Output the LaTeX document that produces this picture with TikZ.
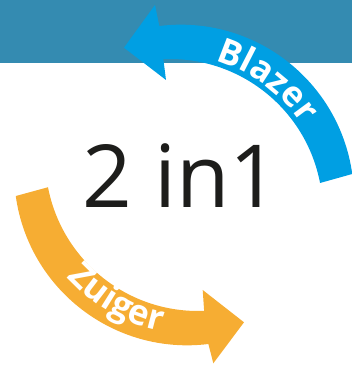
\documentclass[tikz,border=0pt]{standalone}
\usepackage{fontspec}
\setmainfont{Open Sans}
\usetikzlibrary{decorations.text}
\definecolor{bandcol}{RGB}{52,139,177}
\definecolor{blazercol}{RGB}{0,159,227}
\definecolor{zuigercol}{RGB}{246,173,51}
\definecolor{inkcol}{RGB}{29,29,27}
\newcommand\arrowlabelfont{\bfseries\fontsize{35}{37}\selectfont\color{white}}
\tikzset{
  bluearrow/.style={fill=blazercol},
  orangearrow/.style={fill=zuigercol},
  arclabel/.style={decorate, decoration={text along path, text align=center}},
}
\begin{document}
\begin{tikzpicture}[x=1pt,y=1pt]
\useasboundingbox (0,0) rectangle (352,366);
\clip (0,0) rectangle (352,366);
% top band
\fill[bandcol] (0,303.3) rectangle (352,366);
% centres of the arcs
\coordinate (Bo) at (180.7,168.1);
\coordinate (Bi) at (170,154.2);
\coordinate (Oo) at (187.3,193.9);
\coordinate (Oi) at (198,207.8);
% blue arrow (Blazer)
\coordinate (bh1) at (155,361);
\coordinate (btip) at (124,318.3);
\coordinate (bh2) at (166,286);
\path[bluearrow] ([shift={(7.94:173.2pt)}]Bo) arc[start angle=7.94, end angle=97.1, radius=173.2pt]
  -- (bh1) -- (btip) -- (bh2)
  -- ([shift={(92.5:152.8pt)}]Bi) arc[start angle=92.5, end angle=10.87, radius=152.8pt] -- cycle;
% orange arrow (Zuiger)
\coordinate (oh1) at (213.3,2.7);
\coordinate (otip) at (244,43.7);
\coordinate (oh2) at (202.7,76);
\path[orangearrow] ([shift={(187.94:173.2pt)}]Oo) arc[start angle=187.94, end angle=277.0, radius=173.2pt]
  -- (oh1) -- (otip) -- (oh2)
  -- ([shift={(272.3:152.8pt)}]Oi) arc[start angle=272.3, end angle=190.96, radius=152.8pt] -- cycle;
% labels along the arrows
\path[arclabel, decoration={text={|\arrowlabelfont|Blazer}}]
  ([shift={(123.5:158pt)}]Bi) arc[start angle=123.5, end angle=-16.5, radius=158pt];
\path[arclabel, decoration={text={|\arrowlabelfont|Zuiger}}]
  ([shift={(170:177pt)}]Oi) arc[start angle=170, end angle=310, radius=177pt];
% central text
\node[anchor=base, inner sep=0pt, text=inkcol, font=\fontsize{87}{90}\selectfont] (title) at (181,158.7) {2 in1};
\end{tikzpicture}
\end{document}
